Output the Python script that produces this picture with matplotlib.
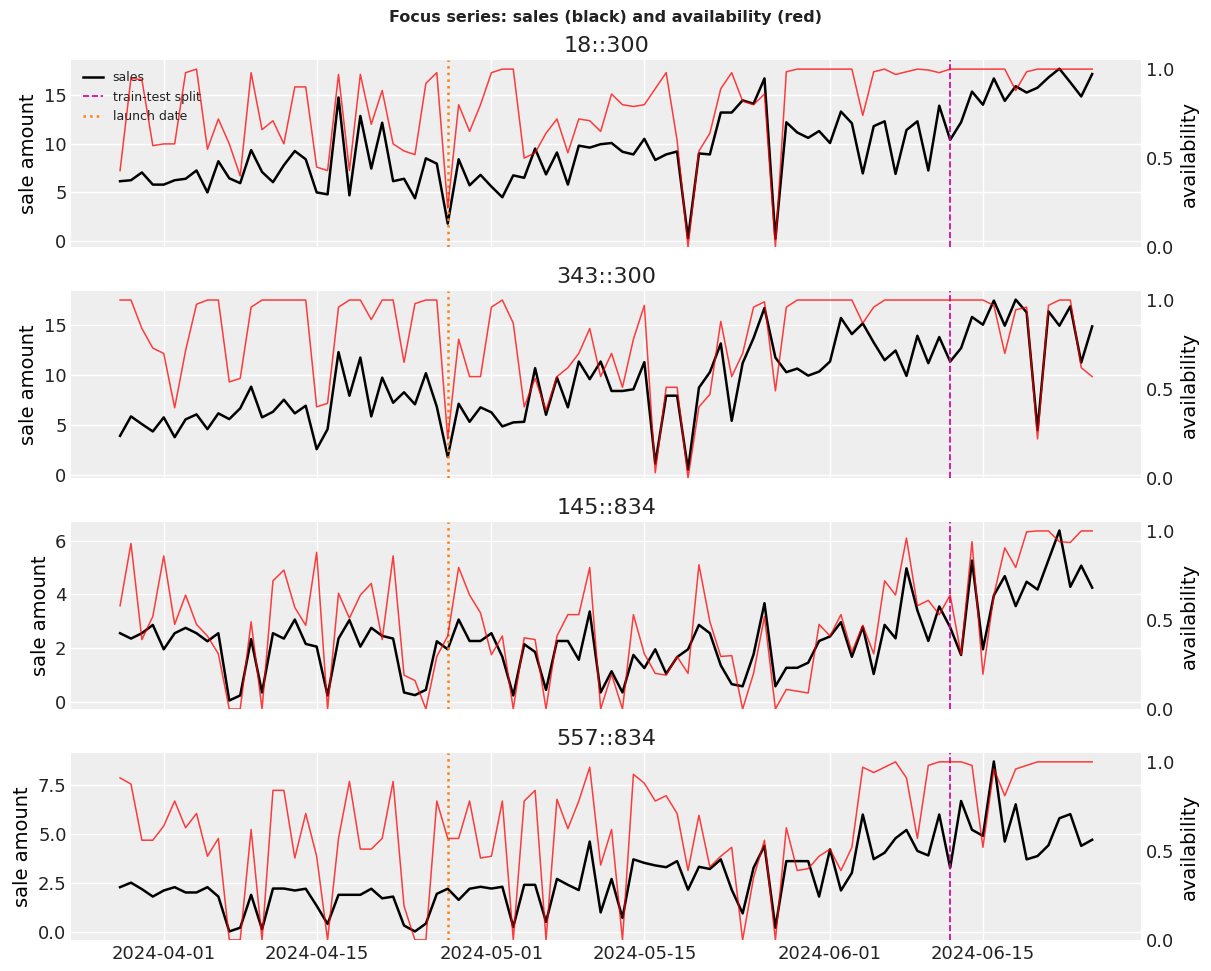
import pandas as pd
import matplotlib
matplotlib.use("Agg")
import matplotlib.pyplot as plt
import matplotlib.dates as mdates
from matplotlib.ticker import MultipleLocator

dates = pd.date_range("2024-03-28", periods=90, freq="D")
launch_date = pd.Timestamp("2024-04-27")
split_date = pd.Timestamp("2024-06-12")

series_names = ["18::300", "343::300", "145::834", "557::834"]
sales_tick_steps = [5, 5, 2, 2.5]

sales_18_300 = [
    6.15, 6.25, 7.05, 5.8, 5.8, 6.25, 6.4, 7.25, 5.0, 8.2,
    6.45, 5.95, 9.35, 7.1, 6.05, 7.8, 9.25, 8.4, 5.0, 4.8,
    14.75, 4.7, 12.85, 7.45, 12.15, 6.15, 6.4, 4.4, 8.5, 7.95,
    1.8, 8.4, 5.73, 6.8, 5.6, 4.5, 6.75, 6.5, 9.5, 6.85,
    9.1, 5.8, 9.8, 9.6, 9.95, 10.07, 9.17, 8.9, 10.5, 8.33,
    8.9, 9.2, 0.3, 9.0, 8.9, 13.2, 13.2, 14.45, 14.1, 16.7,
    0.25, 12.2, 11.15, 10.6, 11.3, 10.07, 13.3, 12.1, 6.95, 11.8,
    12.3, 6.9, 11.4, 12.3, 7.25, 13.9, 10.4, 12.2, 15.35, 14.0,
    16.7, 14.4, 15.9, 15.25, 15.75, 16.8, 17.7, 16.3, 14.85, 17.15,
]
avail_18_300 = [
    0.43, 0.95, 0.94, 0.57, 0.58, 0.58, 0.98, 1.0, 0.55, 0.72,
    0.58, 0.40, 0.98, 0.66, 0.71, 0.58, 0.90, 0.90, 0.45, 0.43,
    0.97, 0.43, 0.97, 0.69, 0.88, 0.58, 0.54, 0.52, 0.92, 0.98,
    0.22, 0.80, 0.65, 0.80, 0.98, 1.0, 1.0, 0.50, 0.53, 0.64,
    0.72, 0.53, 0.72, 0.71, 0.65, 0.86, 0.80, 0.79, 0.80, 0.89,
    0.98, 0.60, 0.0, 0.54, 0.64, 0.89, 0.98, 0.82, 0.80, 0.86,
    0.0, 0.985, 1.0, 1.0, 1.0, 1.0, 1.0, 1.0, 0.74, 0.985,
    1.0, 0.97, 0.985, 1.0, 0.995, 0.98, 1.0, 1.0, 1.0, 1.0,
    1.0, 1.0, 0.88, 0.985, 1.0, 1.0, 1.0, 1.0, 1.0, 1.0,
]

sales_343_300 = [
    3.93, 5.87, 5.1, 4.37, 5.77, 3.8, 5.57, 6.07, 4.6, 6.17,
    5.6, 6.67, 8.83, 5.77, 6.33, 7.53, 6.17, 6.93, 2.6, 4.6,
    12.27, 7.93, 11.73, 5.87, 9.73, 7.23, 8.27, 7.07, 10.17, 6.83,
    1.83, 7.13, 5.33, 6.77, 6.27, 4.87, 5.27, 5.33, 10.67, 6.03,
    9.73, 6.77, 11.33, 9.57, 11.33, 8.4, 8.4, 8.57, 11.27, 1.17,
    7.93, 7.93, 0.57, 8.73, 10.27, 13.13, 5.43, 11.17, 13.67, 16.67,
    11.73, 10.27, 10.63, 9.93, 10.33, 11.33, 15.67, 14.07, 15.13, 13.23,
    11.47, 12.43, 9.9, 13.9, 11.17, 13.77, 11.33, 12.67, 15.77, 15.0,
    17.4, 14.9, 17.5, 16.23, 4.5, 16.33, 14.9, 16.83, 11.23, 14.83,
]
avail_343_300 = [
    1.0, 1.0, 0.84, 0.73, 0.70, 0.395, 0.716, 0.976, 1.0, 1.0,
    0.54, 0.56, 0.96, 1.0, 1.0, 1.0, 1.0, 1.0, 0.40, 0.42,
    0.96, 1.0, 1.0, 0.89, 1.0, 1.0, 0.65, 0.98, 1.0, 1.0,
    0.22, 0.78, 0.57, 0.57, 0.96, 1.0, 0.87, 0.40, 0.56, 0.38,
    0.57, 0.62, 0.70, 0.84, 0.57, 0.70, 0.51, 0.78, 0.97, 0.03,
    0.51, 0.51, 0.0, 0.40, 0.47, 0.88, 0.57, 0.70, 0.96, 0.99,
    0.49, 0.96, 1.0, 1.0, 1.0, 1.0, 1.0, 1.0, 0.87, 0.96,
    1.0, 1.0, 1.0, 1.0, 1.0, 1.0, 1.0, 1.0, 1.0, 1.0,
    0.97, 0.70, 0.945, 0.96, 0.22, 0.97, 1.0, 1.0, 0.62, 0.57,
]

sales_145_834 = [
    2.55, 2.35, 2.55, 2.86, 1.95, 2.55, 2.75, 2.55, 2.25, 2.55,
    0.04, 0.23, 2.33, 0.34, 2.55, 2.35, 3.06, 2.15, 2.05, 0.23,
    2.35, 3.04, 2.05, 2.75, 2.45, 2.35, 0.34, 0.24, 0.44, 2.25,
    1.95, 3.06, 2.26, 2.26, 2.55, 1.67, 0.23, 2.14, 1.85, 0.44,
    2.26, 2.26, 1.56, 3.36, 0.34, 1.13, 0.34, 1.74, 1.25, 1.95,
    1.04, 1.66, 1.95, 2.86, 2.55, 1.35, 0.65, 0.57, 1.76, 3.67,
    0.57, 1.26, 1.26, 1.45, 2.26, 2.43, 2.96, 1.67, 2.79, 1.03,
    2.86, 2.36, 4.97, 3.40, 2.26, 3.55, 2.77, 1.74, 5.26, 1.95,
    3.96, 4.68, 3.56, 4.47, 4.18, 5.28, 6.38, 4.28, 5.07, 4.25,
]
avail_145_834 = [
    0.58, 0.93, 0.39, 0.52, 0.86, 0.475, 0.64, 0.475, 0.41, 0.31,
    0.0, 0.0, 0.49, 0.0, 0.72, 0.78, 0.57, 0.47, 0.88, 0.0,
    0.65, 0.51, 0.64, 0.705, 0.39, 0.86, 0.19, 0.16, 0.0, 0.295,
    0.41, 0.795, 0.64, 0.54, 0.305, 0.41, 0.0, 0.40, 0.39, 0.0,
    0.41, 0.53, 0.53, 0.795, 0.0, 0.195, 0.0, 0.53, 0.31, 0.20,
    0.19, 0.295, 0.20, 0.81, 0.49, 0.295, 0.30, 0.0, 0.20, 0.52,
    0.0, 0.11, 0.10, 0.09, 0.475, 0.41, 0.53, 0.32, 0.47, 0.31,
    0.72, 0.64, 0.96, 0.58, 0.61, 0.53, 0.64, 0.305, 0.94, 0.195,
    0.64, 0.905, 0.795, 0.995, 1.0, 1.0, 0.94, 0.935, 1.0, 1.0,
]

sales_557_834 = [
    2.29, 2.52, 2.19, 1.81, 2.12, 2.29, 2.02, 2.02, 2.29, 1.81,
    0.03, 0.22, 1.9, 0.14, 2.22, 2.22, 2.12, 2.21, 1.34, 0.41,
    1.9, 1.9, 1.9, 2.21, 1.72, 1.81, 0.33, 0.03, 0.43, 1.95,
    2.21, 1.64, 2.21, 2.31, 2.22, 2.31, 0.26, 2.41, 2.41, 0.52,
    2.71, 2.41, 2.14, 4.62, 1.0, 2.71, 0.72, 3.71, 3.53, 3.40,
    3.31, 3.62, 2.16, 3.33, 3.22, 3.71, 2.16, 0.95, 3.28, 4.40,
    0.22, 3.62, 3.62, 3.62, 1.81, 4.22, 2.12, 3.02, 6.0, 3.72,
    4.05, 4.79, 5.21, 4.14, 3.91, 6.0, 3.28, 6.69, 5.22, 4.91,
    8.71, 4.62, 6.52, 3.71, 3.88, 4.43, 5.81, 6.02, 4.40, 4.71,
]
avail_557_834 = [
    0.91, 0.875, 0.56, 0.56, 0.64, 0.78, 0.63, 0.71, 0.47, 0.57,
    0.0, 0.0, 0.62, 0.0, 0.84, 0.84, 0.46, 0.71, 0.47, 0.0,
    0.57, 0.89, 0.51, 0.51, 0.57, 0.89, 0.19, 0.0, 0.0, 0.78,
    0.57, 0.57, 0.78, 0.46, 0.47, 0.78, 0.0, 0.78, 0.84, 0.0,
    0.79, 0.625, 0.78, 0.97, 0.42, 0.62, 0.0, 0.93, 0.88, 0.78,
    0.81, 0.71, 0.39, 0.70, 0.41, 0.47, 0.52, 0.0, 0.35, 0.56,
    0.0, 0.63, 0.39, 0.40, 0.47, 0.51, 0.39, 0.52, 0.97, 0.94,
    0.97, 1.0, 0.91, 0.57, 0.98, 1.0, 1.0, 1.0, 0.98, 0.52,
    0.96, 0.81, 0.96, 0.98, 1.0, 1.0, 1.0, 1.0, 1.0, 1.0,
]

all_sales = [sales_18_300, sales_343_300, sales_145_834, sales_557_834]
all_avail = [avail_18_300, avail_343_300, avail_145_834, avail_557_834]

# darkgrid look (grey panels, white grid, no spines/ticks)
plt.rcParams.update({
    "font.family": "DejaVu Sans",
    "axes.facecolor": "#eeeeee",
    "axes.grid": True,
    "grid.color": "white",
    "grid.linewidth": 1.0,
    "xtick.major.size": 0,
    "ytick.major.size": 0,
    "xtick.labelsize": 13,
    "ytick.labelsize": 13,
    "axes.titlesize": 16,
    "axes.labelsize": 14,
    "text.color": "#222222",
    "xtick.color": "#222222",
    "ytick.color": "#222222",
})

fig, axes = plt.subplots(4, 1, figsize=(12.11, 9.71), dpi=100, sharex=True)
fig.subplots_adjust(left=0.059, right=0.942, top=0.938, bottom=0.032, hspace=0.235)

for ax, name, sales, avail, step in zip(axes, series_names, all_sales, all_avail, sales_tick_steps):
    ax.plot(dates, sales, color="black", lw=1.8, label="sales")
    ax.axvline(split_date, color="#cc0099", ls="--", lw=1.2, label="train-test split")
    ax.axvline(launch_date, color="#ff7f0e", ls=":", lw=1.8, label="launch date")
    ax.yaxis.set_major_locator(MultipleLocator(step))
    ax.set_title(name)
    ax.set_ylabel("sale amount")
    for s in ax.spines.values():
        s.set_visible(False)

    ax2 = ax.twinx()
    ax2.plot(dates, avail, color="red", alpha=0.75, lw=1.1)
    ax2.set_ylim(0, 1.05)
    ax2.set_yticks([0.0, 0.5, 1.0])
    ax2.grid(False)
    ax2.set_ylabel("availability")
    for s in ax2.spines.values():
        s.set_visible(False)

axes[0].legend(loc="upper left", fontsize=9, frameon=False, handlelength=1.6)

axes[-1].xaxis.set_major_locator(mdates.DayLocator(bymonthday=[1, 15]))
axes[-1].xaxis.set_major_formatter(mdates.DateFormatter("%Y-%m-%d"))

fig.suptitle("Focus series: sales (black) and availability (red)",
             fontweight="bold", fontsize=11.5, y=0.99)

fig.savefig("out.png", dpi=100)
